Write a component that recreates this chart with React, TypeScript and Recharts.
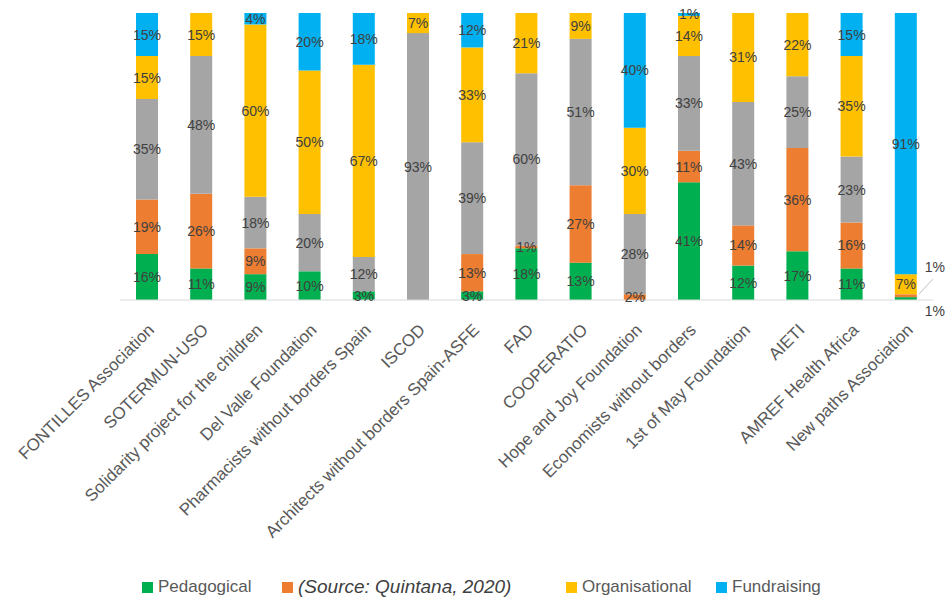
import { BarChart, Bar, XAxis, YAxis, LabelList } from 'recharts';

const categories = [
  'FONTILLES Association',
  'SOTERMUN-USO',
  'Solidarity project for the children',
  'Del Valle Foundation',
  'Pharmacists without borders Spain',
  'ISCOD',
  'Architects without borders Spain-ASFE',
  'FAD',
  'COOPERATIO',
  'Hope and Joy Foundation',
  'Economists without borders',
  '1st of May Foundation',
  'AIETI',
  'AMREF Health Africa',
  'New paths Association',
];

// percentages, stacked bottom to top
const pedagogical = [16, 11, 9, 10, 3, 0, 3, 18, 13, 0, 41, 12, 17, 11, 1];
const technical = [19, 26, 9, 0, 0, 0, 13, 1, 27, 2, 11, 14, 36, 16, 1];
const institutional = [35, 48, 18, 20, 12, 93, 39, 60, 51, 28, 33, 43, 25, 23, 0];
const organisational = [15, 15, 60, 50, 67, 7, 33, 21, 9, 30, 14, 31, 22, 35, 7];
const fundraising = [15, 0, 4, 20, 18, 0, 12, 0, 0, 40, 1, 0, 0, 15, 91];

const data = categories.map((name, i) => ({
  name,
  pedagogical: pedagogical[i],
  technical: technical[i],
  institutional: institutional[i],
  organisational: organisational[i],
  fundraising: fundraising[i],
}));

const FONT = "'Liberation Sans', Arial, sans-serif";
const LABEL_COLOR = '#404040';

const series = [
  { key: 'pedagogical', color: '#00B050' },
  { key: 'technical', color: '#ED7D31' },
  { key: 'institutional', color: '#A5A5A5' },
  { key: 'organisational', color: '#FFC000' },
  { key: 'fundraising', color: '#00B0F0' },
];

const makeLabel = (s: number) => (props: any) => {
  const { x, y, width, height, value } = props;
  if (!value) return null;
  const cx = x + width / 2;
  const cy = y + height / 2;
  // last bar: its tiny bottom slices get their labels pulled outside
  const isLast = x > 880;
  if (isLast && s === 0) {
    return (
      <text x={x + width + 18} y={y + height + 16} textAnchor="middle" fill={LABEL_COLOR} fontSize={14} fontFamily={FONT}>
        {value}%
      </text>
    );
  }
  if (isLast && s === 1) {
    return (
      <g>
        <line x1={x + width + 2} y1={y} x2={x + width + 16} y2={y - 15} stroke="#BFBFBF" strokeWidth={1} />
        <text x={x + width + 18} y={y - 22} textAnchor="middle" fill={LABEL_COLOR} fontSize={14} fontFamily={FONT}>
          {value}%
        </text>
      </g>
    );
  }
  return (
    <text x={cx} y={cy} dy={5} textAnchor="middle" fill={LABEL_COLOR} fontSize={14} fontFamily={FONT}>
      {value}%
    </text>
  );
};

const Tick = (props: any) => {
  const { x, y, payload } = props;
  const px = x + 8;
  const py = y + 23;
  return (
    <text x={px} y={py} transform={`rotate(-45 ${px} ${py})`} textAnchor="end" fill="#595959" fontSize={17} fontFamily={FONT}>
      {payload.value}
    </text>
  );
};

const legendItems = [
  { label: 'Pedagogical', color: '#00B050', left: 142 },
  { label: '(Source: Quintana, 2020)', color: '#ED7D31', left: 282, source: true },
  { label: 'Organisational', color: '#FFC000', left: 566 },
  { label: 'Fundraising', color: '#00B0F0', left: 716 },
];

export default function App() {
  return (
    <div style={{ position: 'relative', width: 950, height: 604, background: '#fff' }}>
      <style>{'body{margin:0}'}</style>
      <BarChart
        width={950}
        height={604}
        data={data}
        margin={{ top: 13, right: 17, left: 120, bottom: 54 }}
      >
        <XAxis
          dataKey="name"
          interval={0}
          tickLine={false}
          axisLine={{ stroke: '#D9D9D9' }}
          tick={<Tick />}
          height={250}
        />
        <YAxis hide domain={[0, 100]} />
        {series.map((s, i) => (
          <Bar key={s.key} dataKey={s.key} stackId="a" fill={s.color} barSize={22} isAnimationActive={false}>
            <LabelList dataKey={s.key} content={makeLabel(i)} />
          </Bar>
        ))}
      </BarChart>
      {legendItems.map((it) => (
        <div
          key={it.label}
          style={{
            position: 'absolute',
            left: it.left,
            top: it.source ? 576 : 577,
            display: 'flex',
            alignItems: 'center',
            fontFamily: FONT,
            fontSize: it.source ? 19 : 17,
            fontStyle: it.source ? 'italic' : 'normal',
            color: it.source ? '#404040' : '#595959',
            whiteSpace: 'nowrap',
          }}
        >
          <span style={{ display: 'inline-block', width: 11, height: 11, background: it.color, marginRight: 5 }} />
          {it.label}
        </div>
      ))}
    </div>
  );
}
